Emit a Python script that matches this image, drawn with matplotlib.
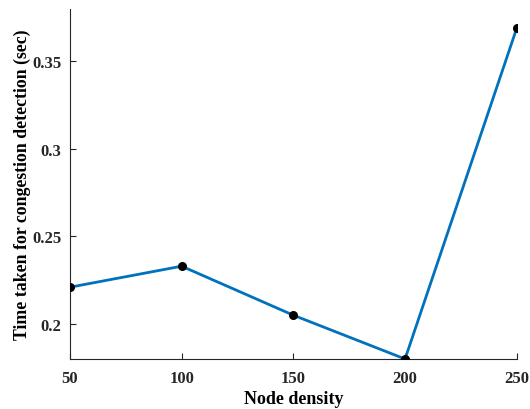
import matplotlib
matplotlib.use('Agg')
import matplotlib.pyplot as plt

node_density = [50, 100, 150, 200, 250]
time_taken = [0.221, 0.233, 0.205, 0.180, 0.369]
xticks = [50, 100, 150, 200, 250]
yticks = [0.2, 0.25, 0.3, 0.35]
yticklabels = ['0.2', '0.25', '0.3', '0.35']

plt.rcParams['font.family'] = ['Liberation Serif', 'DejaVu Serif']
plt.rcParams['font.weight'] = 'bold'

fig = plt.figure(figsize=(5.3, 4.1), dpi=100)
ax = fig.add_axes([0.132, 0.122, 0.843, 0.854])

ax.plot(node_density, time_taken, color='#0072BD', linewidth=2, zorder=2)
ax.plot(node_density, time_taken, 'o', color='black', markersize=5.5, zorder=3)

ax.set_xlim(50, 250)
ax.set_ylim(0.18, 0.38)
ax.set_xticks(xticks)
ax.set_yticks(yticks)
ax.set_yticklabels(yticklabels)
ax.tick_params(direction='in', length=4, width=0.8, labelsize=12, colors='#262626')
ax.tick_params(axis='x', pad=8)
ax.tick_params(axis='y', pad=6)
for lbl in ax.get_xticklabels() + ax.get_yticklabels():
    lbl.set_fontweight('bold')
    lbl.set_color('#262626')

for d in ['top', 'right']:
    ax.spines[d].set_visible(False)
for d in ['left', 'bottom']:
    ax.spines[d].set_color('#262626')
    ax.spines[d].set_linewidth(0.8)

ax.set_xlabel('Node density', fontsize=13, fontweight='bold', labelpad=3)
ax.set_ylabel('Time taken for congestion detection (sec)', fontsize=12.8,
              fontweight='bold', labelpad=1)

plt.savefig('out.png', dpi=100)
